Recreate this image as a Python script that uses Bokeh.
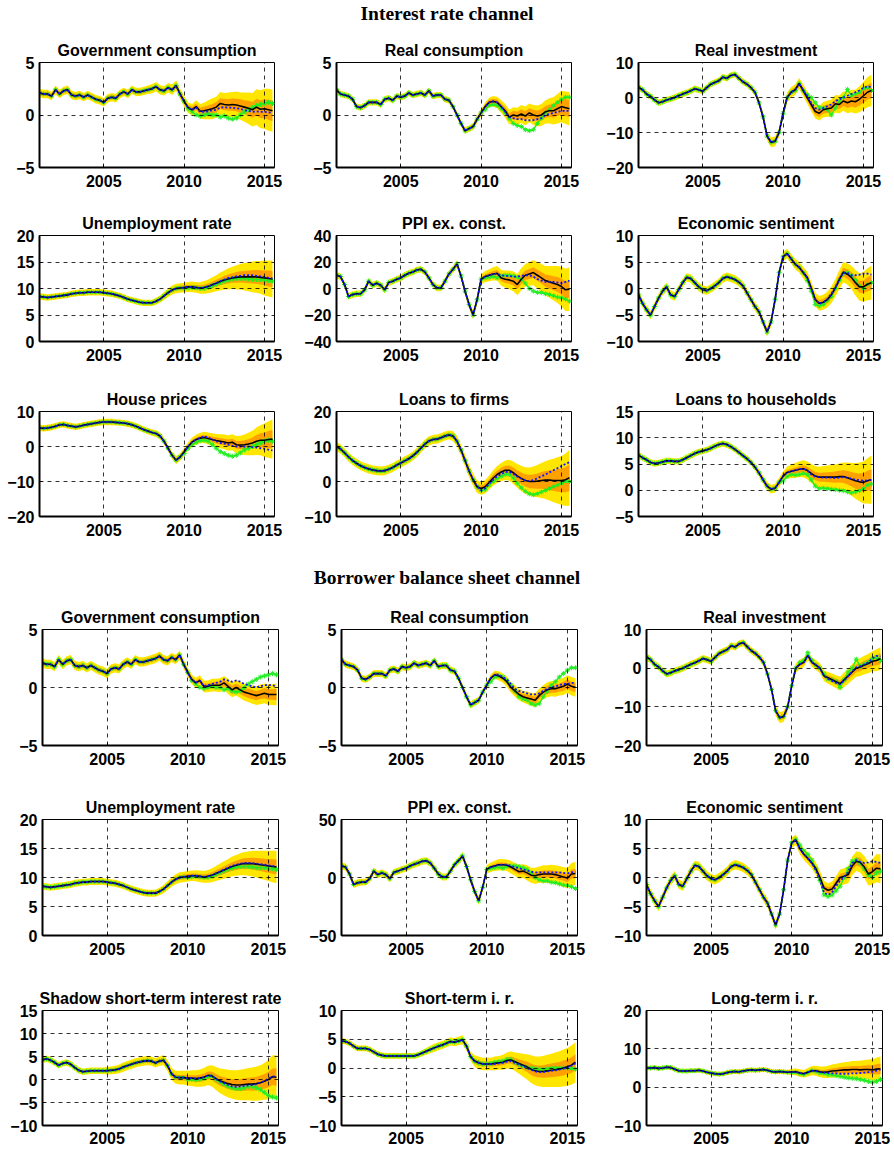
from bokeh.plotting import figure
from bokeh.models import Range1d, Div, FixedTicker
from bokeh.layouts import row, column
from bokeh.embed import file_html
from bokeh.resources import INLINE

N = 59   # quarterly, 2001Q1 .. 2015Q3
H = 36   # simulated paths (tails) start in 2010Q1
quarters = [2001 + i / 4 for i in range(N)]
x_ticks = [2005, 2010, 2015]

# ---------------- observed data (green) ----------------
act_gov = [2.1,2.0,2.0,1.8, 2.4,2.0,2.3,2.4, 1.9,1.8,1.9,1.7, 1.9,1.7,1.5,1.4, 1.2,1.6,1.7,1.6, 2.0,2.2,2.0,2.4,
           2.2,2.2,2.3,2.4, 2.5,2.7,2.4,2.3, 2.6,2.4,2.8,2.0, 1.3,0.6,0.3,0.0, -0.1,0.0,0.1,0.0, 0.0,-0.2,-0.1,-0.3,
           -0.4,-0.3,0.0,0.3, 0.5,0.7,0.9,1.0, 1.1,1.2,1.1]
act_rcons = [2.4,2.0,1.9,1.8, 1.5,0.8,0.7,0.9, 1.2,1.2,1.2,1.0, 1.5,1.6,1.4,1.8, 1.7,1.8,2.1,1.9, 2.0,2.1,1.9,2.3,
             1.8,1.9,1.9,1.5, 1.4,0.8,0.0,-0.8, -1.5,-1.3,-1.1,-0.4, 0.2,0.5,0.9,1.0, 0.9,0.6,0.2,-0.3, -0.8,-1.0,-1.1,-1.4,
             -1.5,-1.4,-0.8,-0.3, 0.2,0.5,0.9,1.2, 1.5,1.7,1.7]
act_rinv = [2.9,2.2,1.0,0.3, -0.7,-1.5,-1.2,-0.7, -0.4,0.0,0.5,1.0, 1.4,1.9,2.5,2.2, 1.8,2.8,3.8,4.3, 4.8,5.8,5.5,6.3,
            6.6,5.5,4.5,3.8, 2.8,1.5,-1.5,-5.5, -11.0,-12.8,-12.5,-10.0, -4.5,0.0,1.5,2.0, 4.0,2.0,0.8,0.0, -1.5,-2.8,-3.0,-3.5,
            -5.0,-3.0,-1.0,0.0, 2.3,0.5,1.0,1.5, 2.5,2.8,2.0]
act_unemp = [8.5,8.4,8.3,8.4, 8.5,8.6,8.7,8.8, 9.0,9.1,9.2,9.2, 9.3,9.3,9.3,9.3, 9.2,9.1,9.0,8.8, 8.6,8.3,8.0,7.8,
             7.6,7.4,7.3,7.3, 7.3,7.6,8.0,8.6, 9.2,9.7,10.0,10.1, 10.0,10.1,10.2,10.1, 10.0,10.0,10.2,10.5, 10.8,11.1,11.4,11.6,
             11.8,11.9,11.9,11.9, 11.8,11.7,11.7,11.7, 11.6,11.5,11.4]
act_ppi = [10,9,3,-6, -4.6,-4,-4,-1, 5.5,2.5,4,2.5, -1,4.5,5.5,7, 8,10,11.5,12.5, 14,14.5,12.5,8,
           3,0.5,0.5,5.5, 11,14.5,18.5,9.5, -2,-12,-20,-8.5, 7,8,8.5,9, 8,9.5,10,10, 9.5,8.5,7,4,
           0,-2,-3,-3, -4,-4.5,-5.5,-6.5, -7,-8,-9.5]
act_esent = [-1.2,-2.8,-4.0,-5.0, -3.4,-1.8,-0.5,0.3, -1.2,-1.5,-0.2,1.1, 2.1,1.9,1.1,0.3, -0.2,-0.4,0.0,0.5, 1.1,1.9,2.2,2.0,
             1.7,1.2,0.5,-0.8, -2.1,-3.4,-4.4,-6.3, -8.2,-6.3,-2.1,3.0, 6.0,6.6,5.6,4.6, 4.0,3.0,1.5,-0.5, -3.0,-3.3,-3.0,-2.3,
             -1.5,0.0,1.5,2.8, 3.0,2.5,1.5,0.5, 0.0,0.8,1.1]
act_house = [5.3,5.2,5.3,5.5, 5.8,6.2,6.3,6.0, 5.8,5.6,5.8,6.1, 6.3,6.5,6.7,6.9, 7.0,7.0,7.0,6.9, 6.8,6.7,6.5,6.2,
             5.8,5.3,4.8,4.4, 4.0,3.7,3.0,1.5, -0.5,-2.5,-3.9,-3.0, -2.0,-0.5,0.5,1.2, 1.7,1.8,1.5,0.5, -0.5,-1.5,-2.0,-2.5,
             -2.8,-2.5,-1.8,-1.0, -0.5,0.0,0.5,1.0, 1.5,1.8,1.5]
act_lfirm = [10.0,9.3,8.2,7.0, 6.0,5.2,4.5,4.0, 3.6,3.3,3.1,3.0, 3.1,3.5,4.0,4.7, 5.3,5.9,6.5,7.3, 8.3,9.5,10.7,11.6,
             12.0,12.1,12.5,13.0, 13.3,13.0,11.5,9.0, 6.0,3.0,0.5,-1.5, -2.5,-2.3,-1.0,0.0, 0.8,1.5,2.0,2.0, 1.0,-0.5,-1.8,-2.8,
             -3.5,-3.8,-3.5,-3.0, -2.5,-2.0,-1.5,-1.0, -0.5,0.0,0.0]
act_lhh = [6.7,6.2,5.8,5.3, 5.1,5.2,5.4,5.6, 5.6,5.5,5.5,5.8, 6.2,6.6,7.0,7.3, 7.5,7.7,8.0,8.4, 8.7,8.9,8.7,8.3,
           7.8,7.2,6.6,6.0, 5.3,4.4,3.3,2.0, 0.8,0.2,0.4,1.5, 1.8,2.6,3.0,2.9, 3.0,3.2,3.0,2.0, 0.8,0.3,0.4,0.3,
           0.2,0.1,0.0,-0.1, -0.3,-0.5,-0.3,-0.1, 0.3,1.0,1.2]
act_shadow = [4.3,4.5,4.2,3.7, 3.1,3.5,3.7,3.3, 2.6,2.0,1.7,1.8, 1.9,1.9,1.9,1.9, 1.9,2.0,2.1,2.3, 2.7,3.0,3.3,3.6,
              3.8,4.0,4.1,4.0, 3.6,4.0,4.2,3.0, 1.2,0.5,0.4,0.4, 0.0,0.0,-0.1,0.0, 0.2,0.6,0.7,0.0, -0.5,-1.0,-1.5,-1.8,
              -2.0,-2.0,-1.8,-1.5, -1.5,-1.8,-2.2,-2.8, -3.5,-3.8,-4.0]
act_short = [4.7,4.6,4.3,3.8, 3.4,3.4,3.4,3.2, 2.8,2.4,2.2,2.1, 2.1,2.1,2.1,2.1, 2.1,2.1,2.1,2.3, 2.6,2.9,3.2,3.5,
             3.8,4.0,4.3,4.6, 4.5,4.7,4.9,3.8, 2.0,1.2,0.9,0.7, 0.7,0.8,1.0,1.1, 1.2,1.5,1.5,1.0, 0.6,0.3,0.1,0.0,
             -0.1,-0.2,-0.2,-0.1, 0.0,0.0,0.0,0.0, 0.0,-0.1,-0.2]
act_long = [5.0,5.0,5.1,4.9, 5.0,5.2,5.1,4.7, 4.3,4.2,4.2,4.3, 4.3,4.4,4.2,3.9, 3.7,3.5,3.4,3.5, 3.8,4.0,4.1,4.0,
            4.2,4.4,4.5,4.4, 4.5,4.6,4.4,4.1, 4.0,4.1,4.0,3.9, 3.8,3.9,3.5,3.3, 3.8,4.3,4.1,3.7, 3.6,3.3,3.2,3.0,
            2.8,2.6,2.4,2.3, 2.2,2.0,1.8,1.5, 1.3,1.5,2.0]

# ---------------- simulated median (black) and alternative path (blue), 2010Q1 .. 2015Q3 ----------------
# Interest rate channel
med_gov1 = [1.3,0.7,0.5,0.8, 0.35,0.4,0.5,0.6, 0.75,1.1,1.0,0.95, 1.0,0.95,0.85,0.75, 0.65,0.5,0.75,0.55, 0.6,0.5,0.4]
blu_gov1 = [1.3,0.7,0.5,0.7, 0.3,0.3,0.35,0.45, 0.5,0.7,0.75,0.7, 0.7,0.65,0.6,0.45, 0.4,0.3,0.35,0.3, 0.3,0.25,0.2]
med_rcons1 = [0.2,0.8,1.2,1.3, 1.2,0.8,0.4,-0.2, 0.0,-0.1,0.1,-0.1, 0.2,0.0,-0.1,0.0, 0.3,0.4,0.4,0.6, 0.8,0.7,0.6]
blu_rcons1 = [0.2,0.8,1.2,1.3, 1.2,0.8,0.3,-0.2, -0.3,-0.4,-0.4,-0.5, -0.5,-0.5,-0.4,-0.3, 0.0,0.1,0.2,0.3, 0.4,0.4,0.4]
med_rinv1 = [-4.5,0.0,1.5,2.2, 4.0,2.0,0.0,-2.0, -4.0,-4.5,-3.5,-3.2, -3.0,-1.8,-2.0,-1.0, -1.5,-1.0,-1.2,-0.5, 0.5,1.5,2.0]
blu_rinv1 = [-4.5,0.0,1.5,2.2, 4.0,2.2,0.5,-1.5, -3.0,-3.5,-3.0,-2.5, -2.0,-1.0,-0.5,0.0, 0.5,1.0,1.5,2.0, 2.8,3.2,3.0]
med_unemp1 = [10.2,10.3,10.3,10.2, 10.1,10.2,10.4,10.7, 11.0,11.3,11.6,11.8, 12.0,12.1,12.2,12.2, 12.2,12.2,12.2,12.1, 12.0,11.9,11.8]
blu_unemp1 = [10.2,10.3,10.3,10.2, 10.1,10.2,10.4,10.7, 11.0,11.4,11.7,12.0, 12.1,12.3,12.4,12.5, 12.5,12.5,12.4,12.3, 12.2,12.0,11.9]
med_ppi1 = [7,9,10,11, 11.5,8,7,6.5, 5.5,3,7,10, 11,12,10,8, 6,5,4,3, 1.5,-1,-0.5]
blu_ppi1 = [7,9,10,11, 11,10,9.5,9.5, 9,9,9.5,10, 10,9,7,6, 5,5,5,4.5, 4,5,6]
med_esent1 = [6.0,6.6,5.6,4.6, 4.0,3.0,2.1,0.1, -2.1,-2.8,-2.6,-2.1, -1.2,0.1,1.7,3.1, 2.7,2.1,1.1,0.3, 0.3,0.8,1.1]
blu_esent1 = [6.0,6.6,5.6,4.6, 4.0,3.0,2.0,0.1, -2.0,-2.9,-2.6,-2.0, -1.0,0.2,1.8,3.0, 3.0,2.5,2.5,2.6, 2.8,2.8,2.6]
med_house1 = [-1.5,0.0,1.3,2.0, 2.4,2.6,2.3,2.0, 1.7,1.5,1.3,1.0, 1.2,0.5,0.4,0.5, 0.7,1.0,1.5,1.8, 1.8,2.0,2.1]
blu_house1 = [-1.5,0.0,1.3,2.0, 2.5,2.9,2.6,2.0, 1.5,1.0,0.8,0.5, 0.2,0.0,0.0,0.0, 0.0,-0.2,-0.3,-0.5, -0.7,-0.9,-1.1]
med_lfirm1 = [-2.0,-1.5,-0.3,1.0, 2.0,2.7,3.2,3.2, 2.5,1.6,0.9,0.3, 0.0,0.0,0.1,0.3, 0.4,0.4,0.3,0.3, 0.3,0.5,1.1]
blu_lfirm1 = [-2.5,-2.0,-0.6,0.5, 1.5,2.2,2.7,2.8, 2.2,1.4,0.8,0.3, 0.1,0.4,0.9,1.5, 2.0,2.6,3.2,3.8, 4.4,5.0,5.5]
med_lhh1 = [2.7,3.4,3.6,3.8, 4.0,4.1,3.8,3.2, 2.7,2.5,2.5,2.5, 2.5,2.5,2.6,2.6, 2.4,2.1,1.8,1.6, 1.5,1.8,2.0]
blu_lhh1 = [2.7,3.4,3.6,3.8, 4.0,4.1,3.8,3.0, 2.6,2.5,2.4,2.4, 2.4,2.3,2.4,2.5, 2.4,2.2,2.0,1.9, 1.8,1.9,2.0]
# Borrower balance sheet channel
med_gov2 = [1.3,0.7,0.4,0.6, 0.1,0.1,0.2,0.2, 0.2,0.4,0.1,-0.2, 0.0,-0.2,-0.4,-0.5, -0.6,-0.7,-0.6,-0.5, -0.6,-0.6,-0.6]
blu_gov2 = [1.3,0.7,0.4,0.6, 0.1,0.2,0.3,0.4, 0.5,0.7,0.6,0.5, 0.6,0.5,0.3,0.2, 0.1,0.0,0.1,0.2, 0.2,0.2,0.1]
med_rcons2 = [0.2,0.8,1.1,1.0, 0.8,0.5,0.0,-0.3, -0.6,-0.8,-0.9,-1.0, -1.1,-0.7,-0.4,-0.2, -0.1,-0.1,0.0,0.1, 0.3,0.1,0.0]
blu_rcons2 = [0.2,0.8,1.1,1.1, 0.9,0.7,0.3,-0.1, -0.3,-0.4,-0.5,-0.6, -0.6,-0.5,-0.3,-0.1, 0.0,0.1,0.2,0.3, 0.3,0.4,0.4]
med_rinv2 = [-4.5,0.0,1.0,1.5, 3.3,1.5,0.8,0.0, -2.0,-2.5,-3.0,-3.5, -4.0,-3.0,-2.0,-1.0, 0.0,0.3,0.8,1.2, 1.8,2.0,2.5]
blu_rinv2 = [-4.5,0.0,1.0,1.5, 3.3,1.5,0.8,0.0, -2.0,-2.8,-3.3,-3.8, -4.2,-3.2,-2.0,-0.8, 0.2,0.5,1.0,1.5, 2.5,3.2,3.0]
med_unemp2 = [10.2,10.3,10.3,10.2, 10.1,10.2,10.4,10.7, 11.0,11.3,11.6,11.9, 12.1,12.3,12.4,12.4, 12.4,12.3,12.2,12.1, 12.0,11.9,11.8]
blu_unemp2 = [10.2,10.3,10.3,10.2, 10.1,10.2,10.4,10.7, 11.0,11.4,11.7,12.0, 12.2,12.4,12.5,12.5, 12.5,12.4,12.3,12.2, 12.1,12.0,11.9]
med_ppi2 = [7,9,10,11, 11,10.5,9,7, 5,5.5,4,2, 1.5,2.5,3,3, 3,2.5,1.5,0.5, -0.5,3,3.5]
blu_ppi2 = [7,9,10,11, 11,11,10,9, 8,7,6,5, 4.5,4.5,4.5,4.5, 4.5,4.5,4.5,4, 3.5,4.5,5]
med_esent2 = [6.0,6.5,5.0,4.0, 3.3,2.5,1.5,0.0, -1.8,-2.2,-2.0,-1.0, 0.0,0.2,0.5,2.0, 2.8,2.6,1.8,0.6, 1.0,1.6,1.5]
blu_esent2 = [6.0,6.5,5.0,4.0, 3.3,2.5,1.2,-0.5, -2.6,-3.0,-2.6,-1.5, -0.5,0.0,1.0,2.5, 3.0,2.7,2.5,2.6, 2.8,2.7,2.5]
med_shadow2 = [0.3,0.3,0.2,0.3, 0.5,0.9,0.8,0.2, -0.3,-0.6,-0.9,-1.1, -1.2,-1.2,-1.1,-1.0, -1.0,-0.9,-0.7,-0.4, 0.0,0.6,0.5]
blu_shadow2 = [0.3,0.3,0.2,0.3, 0.5,0.9,0.8,0.1, -0.4,-0.8,-1.2,-1.5, -1.6,-1.5,-1.4,-1.3, -1.2,-1.0,-0.7,-0.3, 0.2,0.7,0.6]
med_short2 = [0.7,0.7,0.8,0.9, 1.0,1.3,1.4,1.1, 0.8,0.5,0.2,-0.2, -0.5,-0.6,-0.6,-0.5, -0.4,-0.3,-0.2,0.0, 0.2,0.5,1.0]
blu_short2 = [0.7,0.7,0.7,0.8, 0.9,1.1,1.2,0.9, 0.6,0.3,0.0,-0.3, -0.6,-0.7,-0.7,-0.6, -0.5,-0.4,-0.3,-0.1, 0.1,0.4,0.8]
med_long2 = [4.0,4.0,3.7,3.5, 3.9,4.3,4.3,4.0, 3.9,4.0,4.2,4.3, 4.4,4.5,4.5,4.6, 4.6,4.5,4.6,4.6, 4.5,4.7,4.8]
blu_long2 = [4.0,4.0,3.7,3.5, 3.9,4.3,4.2,3.9, 3.8,3.7,3.6,3.6, 3.5,3.5,3.5,3.6, 3.6,3.7,3.8,3.9, 4.0,4.3,4.6]

# ---------------- fan half-widths: outer (yellow) and inner (orange), 2001Q1 .. 2015Q3 ----------------
yw_gov1 = [.4,.4,.4,.4, .4,.4,.4,.4, .4,.4,.4,.4, .4,.4,.4,.4, .4,.4,.4,.4, .4,.4,.4,.4, .4,.4,.4,.4, .45,.45,.45,.45, .45,.5,.5,.5,
           .5,.5,.55,.6, .7,.8,.9,1.0, 1.0,1.1,1.1,1.2, 1.2,1.3,1.3,1.4, 1.5,1.6,1.7,1.8, 1.9,2.0,2.0]
ow_gov1 = [.2,.2,.2,.2, .2,.2,.2,.2, .2,.2,.2,.2, .2,.2,.2,.2, .2,.2,.2,.2, .2,.2,.2,.2, .2,.2,.2,.2, .2,.2,.2,.2, .2,.2,.25,.25,
           .25,.25,.3,.3, .35,.4,.4,.45, .5,.5,.55,.55, .6,.6,.65,.65, .7,.75,.8,.85, .9,.95,1.0]
yw_rcons1 = [.3,.3,.3,.3, .3,.3,.3,.3, .3,.3,.3,.3, .3,.3,.3,.3, .3,.3,.3,.3, .3,.3,.3,.3, .3,.3,.3,.3, .3,.3,.3,.3, .3,.3,.35,.35,
             .35,.4,.45,.5, .55,.6,.65,.7, .75,.8,.85,.9, .9,.95,1.0,1.05, 1.1,1.2,1.3,1.4, 1.5,1.55,1.6]
ow_rcons1 = [.15,.15,.15,.15, .15,.15,.15,.15, .15,.15,.15,.15, .15,.15,.15,.15, .15,.15,.15,.15, .15,.15,.15,.15, .15,.15,.15,.15,
             .15,.15,.15,.15, .15,.15,.18,.18, .2,.2,.25,.25, .3,.3,.35,.35, .4,.4,.45,.45, .45,.5,.5,.55, .55,.6,.65,.7, .75,.8,.8]
yw_rinv1 = [.9,.9,.9,.9, .9,.9,.9,.9, .9,.9,.9,.9, .9,.9,.9,.9, .9,.9,.9,.9, .9,.9,.9,.9, .9,.9,.9,.9, .9,1.0,1.1,1.2, 1.3,1.4,1.4,1.3,
            1.3,1.4,1.5,1.5, 1.6,1.7,1.8,1.9, 2.0,2.1,2.2,2.3, 2.4,2.5,2.6,2.8, 3.0,3.2,3.4,3.7, 4.0,4.3,4.5]
ow_rinv1 = [.4,.4,.4,.4, .4,.4,.4,.4, .4,.4,.4,.4, .4,.4,.4,.4, .4,.4,.4,.4, .4,.4,.4,.4, .4,.4,.4,.4, .4,.45,.5,.5, .55,.6,.6,.55,
            .6,.65,.7,.7, .8,.9,.9,1.0, 1.0,1.1,1.1,1.2, 1.2,1.3,1.3,1.4, 1.5,1.6,1.7,1.8, 2.0,2.1,2.2]
yw_unemp1 = [.6,.6,.6,.6, .6,.6,.6,.6, .6,.6,.6,.6, .6,.6,.6,.6, .6,.6,.6,.6, .6,.6,.6,.6, .6,.6,.6,.6, .6,.65,.7,.75, .8,.85,.9,.9,
             .9,.95,1.0,1.0, 1.1,1.2,1.3,1.4, 1.5,1.7,1.8,2.0, 2.1,2.3,2.4,2.6, 2.7,2.9,3.0,3.1, 3.3,3.4,3.5]
ow_unemp1 = [.25,.25,.25,.25, .25,.25,.25,.25, .25,.25,.25,.25, .25,.25,.25,.25, .25,.25,.25,.25, .25,.25,.25,.25, .25,.25,.25,.25,
             .25,.28,.3,.32, .35,.35,.38,.4, .4,.4,.42,.45, .48,.5,.55,.6, .65,.7,.8,.85, .9,1.0,1.05,1.1, 1.2,1.25,1.3,1.35, 1.4,1.5,1.5]
yw_ppi1 = [2.5,2.5,2.5,2.5, 2.5,2.5,2.5,2.5, 2.5,2.5,2.5,2.5, 2.5,2.5,2.5,2.5, 2.5,2.5,2.5,2.5, 2.5,2.5,2.5,2.5, 2.5,2.5,2.5,2.5,
           2.5,2.6,2.8,3.0, 3.0,3.2,3.4,3.5, 3.8,4.2,4.6,5.0, 5.5,6.0,6.5,7.0, 7.5,8.0,8.5,8.5, 9.0,9.5,10,10.5, 11,12,13,14, 15,16,16.5]
ow_ppi1 = [1.0,1.0,1.0,1.0, 1.0,1.0,1.0,1.0, 1.0,1.0,1.0,1.0, 1.0,1.0,1.0,1.0, 1.0,1.0,1.0,1.0, 1.0,1.0,1.0,1.0, 1.0,1.0,1.0,1.0,
           1.0,1.1,1.2,1.3, 1.3,1.4,1.5,1.5, 1.6,1.8,2.0,2.2, 2.4,2.6,2.8,3.0, 3.2,3.4,3.6,3.6, 3.8,4.0,4.2,4.4, 4.6,5.0,5.3,5.6, 6.0,6.3,6.5]
yw_esent1 = [.8,.8,.8,.8, .8,.8,.8,.8, .8,.8,.8,.8, .8,.8,.8,.8, .8,.8,.8,.8, .8,.8,.8,.8, .8,.8,.8,.8, .8,.8,.8,.8, .9,.9,.9,.9,
             .9,.9,.9,1.0, 1.0,1.1,1.1,1.2, 1.3,1.4,1.4,1.5, 1.6,1.7,1.8,1.9, 2.0,2.2,2.4,2.6, 2.8,3.0,3.2]
ow_esent1 = [.35,.35,.35,.35, .35,.35,.35,.35, .35,.35,.35,.35, .35,.35,.35,.35, .35,.35,.35,.35, .35,.35,.35,.35, .35,.35,.35,.35,
             .35,.35,.35,.35, .35,.35,.35,.35, .4,.4,.4,.45, .45,.5,.5,.55, .6,.6,.65,.65, .7,.75,.8,.85, .9,1.0,1.05,1.1, 1.2,1.3,1.4]
yw_house1 = [.9,.9,.9,.9, .9,.9,.9,.9, .9,.9,.9,.9, .9,.9,.9,.9, .9,.9,.9,.9, .9,.9,.9,.9, .9,.9,.9,.9, .9,.95,1.0,1.0, 1.0,1.1,1.1,1.1,
             1.1,1.2,1.3,1.4, 1.5,1.6,1.7,1.8, 1.9,2.0,2.1,2.2, 2.3,2.5,2.7,2.9, 3.2,3.5,3.9,4.3, 4.8,5.2,5.6]
ow_house1 = [.4,.4,.4,.4, .4,.4,.4,.4, .4,.4,.4,.4, .4,.4,.4,.4, .4,.4,.4,.4, .4,.4,.4,.4, .4,.4,.4,.4, .4,.42,.45,.45, .45,.5,.5,.5,
             .5,.55,.6,.6, .65,.7,.75,.8, .85,.9,.95,1.0, 1.0,1.1,1.2,1.3, 1.4,1.6,1.8,2.0, 2.2,2.4,2.6]
yw_lfirm1 = [1.3,1.3,1.3,1.3, 1.3,1.3,1.3,1.3, 1.3,1.3,1.3,1.3, 1.3,1.3,1.3,1.3, 1.3,1.3,1.3,1.3, 1.3,1.3,1.3,1.3, 1.3,1.3,1.3,1.3,
             1.3,1.4,1.5,1.6, 1.7,1.8,1.8,1.8, 1.8,1.9,2.0,2.2, 2.4,2.6,2.8,3.0, 3.2,3.4,3.6,3.8, 4.0,4.3,4.6,5.0, 5.4,5.8,6.2,6.6, 7.0,7.5,8.0]
ow_lfirm1 = [.6,.6,.6,.6, .6,.6,.6,.6, .6,.6,.6,.6, .6,.6,.6,.6, .6,.6,.6,.6, .6,.6,.6,.6, .6,.6,.6,.6, .6,.65,.7,.75, .8,.85,.85,.85,
             .85,.9,.95,1.0, 1.1,1.2,1.3,1.4, 1.5,1.6,1.7,1.8, 1.9,2.0,2.2,2.4, 2.6,2.8,3.0,3.2, 3.4,3.6,3.8]
yw_lhh1 = [.6,.6,.6,.6, .6,.6,.6,.6, .6,.6,.6,.6, .6,.6,.6,.6, .6,.6,.6,.6, .6,.6,.6,.6, .6,.6,.6,.6, .6,.65,.7,.75, .8,.8,.85,.9,
           .9,1.1,1.3,1.4, 1.5,1.6,1.7,1.8, 1.9,2.0,2.1,2.2, 2.3,2.4,2.5,2.7, 2.9,3.1,3.4,3.7, 4.0,4.3,4.6]
ow_lhh1 = [.25,.25,.25,.25, .25,.25,.25,.25, .25,.25,.25,.25, .25,.25,.25,.25, .25,.25,.25,.25, .25,.25,.25,.25, .25,.25,.25,.25,
           .25,.28,.3,.32, .35,.35,.38,.4, .4,.45,.5,.55, .6,.65,.7,.75, .8,.85,.9,.95, 1.0,1.05,1.1,1.2, 1.3,1.4,1.5,1.6, 1.8,1.9,2.0]
yw_gov2 = [.4,.4,.4,.4, .4,.4,.4,.4, .4,.4,.4,.4, .4,.4,.4,.4, .4,.4,.4,.4, .4,.4,.4,.4, .4,.4,.4,.4, .4,.4,.4,.4, .4,.4,.4,.4,
           .4,.4,.45,.45, .5,.5,.55,.55, .6,.6,.65,.65, .7,.7,.75,.75, .8,.8,.85,.85, .9,.9,.95]
ow_gov2 = [.2,.2,.2,.2, .2,.2,.2,.2, .2,.2,.2,.2, .2,.2,.2,.2, .2,.2,.2,.2, .2,.2,.2,.2, .2,.2,.2,.2, .2,.2,.2,.2, .2,.2,.2,.2,
           .2,.2,.2,.2, .25,.25,.25,.3, .3,.3,.3,.35, .35,.35,.35,.4, .4,.4,.4,.45, .45,.45,.5]
yw_rcons2 = [.3,.3,.3,.3, .3,.3,.3,.3, .3,.3,.3,.3, .3,.3,.3,.3, .3,.3,.3,.3, .3,.3,.3,.3, .3,.3,.3,.3, .3,.3,.3,.3, .3,.3,.3,.3,
             .3,.35,.35,.4, .4,.45,.45,.5, .5,.5,.55,.55, .6,.6,.6,.65, .65,.7,.7,.75, .75,.8,.8]
ow_rcons2 = [.15,.15,.15,.15, .15,.15,.15,.15, .15,.15,.15,.15, .15,.15,.15,.15, .15,.15,.15,.15, .15,.15,.15,.15, .15,.15,.15,.15,
             .15,.15,.15,.15, .15,.15,.15,.15, .15,.15,.2,.2, .2,.2,.25,.25, .25,.25,.3,.3, .3,.3,.3,.35, .35,.35,.35,.4, .4,.4,.4]
yw_rinv2 = [.9,.9,.9,.9, .9,.9,.9,.9, .9,.9,.9,.9, .9,.9,.9,.9, .9,.9,.9,.9, .9,.9,.9,.9, .9,.9,.9,.9, .9,1.0,1.1,1.2, 1.3,1.4,1.4,1.3,
            1.2,1.2,1.2,1.2, 1.2,1.2,1.3,1.3, 1.4,1.5,1.6,1.7, 1.8,1.9,2.0,2.1, 2.2,2.3,2.4,2.5, 2.6,2.8,3.0]
ow_rinv2 = [.4,.4,.4,.4, .4,.4,.4,.4, .4,.4,.4,.4, .4,.4,.4,.4, .4,.4,.4,.4, .4,.4,.4,.4, .4,.4,.4,.4, .4,.45,.5,.5, .55,.6,.6,.55,
            .5,.5,.5,.5, .5,.5,.55,.55, .6,.65,.7,.75, .8,.85,.9,.95, 1.0,1.05,1.1,1.15, 1.2,1.3,1.4]
yw_unemp2 = [.6,.6,.6,.6, .6,.6,.6,.6, .6,.6,.6,.6, .6,.6,.6,.6, .6,.6,.6,.6, .6,.6,.6,.6, .6,.6,.6,.6, .6,.65,.7,.75, .8,.85,.9,.9,
             .9,.9,.95,1.0, 1.0,1.1,1.2,1.3, 1.4,1.5,1.6,1.7, 1.8,1.9,2.0,2.1, 2.2,2.3,2.4,2.5, 2.6,2.7,2.8]
ow_unemp2 = [.25,.25,.25,.25, .25,.25,.25,.25, .25,.25,.25,.25, .25,.25,.25,.25, .25,.25,.25,.25, .25,.25,.25,.25, .25,.25,.25,.25,
             .25,.28,.3,.32, .35,.35,.38,.4, .4,.4,.4,.4, .4,.45,.5,.55, .6,.65,.7,.75, .8,.85,.9,.95, 1.0,1.05,1.1,1.15, 1.2,1.25,1.3]
yw_ppi2 = [3.0,3.0,3.0,3.0, 3.0,3.0,3.0,3.0, 3.0,3.0,3.0,3.0, 3.0,3.0,3.0,3.0, 3.0,3.0,3.0,3.0, 3.0,3.0,3.0,3.0, 3.0,3.0,3.0,3.0,
           3.0,3.2,3.4,3.5, 3.5,3.6,3.8,3.8, 3.8,4.0,4.5,5.0, 5.0,5.0,5.5,5.5, 6.0,6.0,6.5,6.5, 7.0,7.0,7.5,7.5, 8.0,8.0,8.5,8.5, 9.0,9.5,10]
ow_ppi2 = [1.2,1.2,1.2,1.2, 1.2,1.2,1.2,1.2, 1.2,1.2,1.2,1.2, 1.2,1.2,1.2,1.2, 1.2,1.2,1.2,1.2, 1.2,1.2,1.2,1.2, 1.2,1.2,1.2,1.2,
           1.2,1.3,1.4,1.4, 1.4,1.5,1.5,1.5, 1.5,1.6,1.8,2.0, 2.0,2.0,2.2,2.2, 2.4,2.4,2.6,2.6, 2.8,2.8,3.0,3.0, 3.2,3.2,3.4,3.4, 3.6,3.8,4.0]
yw_esent2 = [.8,.8,.8,.8, .8,.8,.8,.8, .8,.8,.8,.8, .8,.8,.8,.8, .8,.8,.8,.8, .8,.8,.8,.8, .8,.8,.8,.8, .8,.8,.8,.8, .8,.8,.8,.8,
             .9,.9,1.0,1.0, 1.0,1.0,1.1,1.1, 1.2,1.2,1.3,1.3, 1.4,1.4,1.5,1.6, 1.7,1.8,1.9,2.0, 2.2,2.4,2.5]
ow_esent2 = [.35,.35,.35,.35, .35,.35,.35,.35, .35,.35,.35,.35, .35,.35,.35,.35, .35,.35,.35,.35, .35,.35,.35,.35, .35,.35,.35,.35,
             .35,.35,.35,.35, .35,.35,.35,.35, .4,.4,.4,.4, .4,.4,.45,.45, .5,.5,.55,.55, .6,.6,.65,.7, .75,.8,.85,.9, .95,1.0,1.05]
yw_shadow2 = [.7,.7,.7,.7, .7,.7,.7,.7, .7,.7,.7,.7, .7,.7,.7,.7, .8,.85,.9,.95, 1.0,1.0,1.0,1.0, 1.0,1.0,1.0,1.0, 1.0,1.0,1.1,1.2,
              1.3,1.4,1.5,1.5, 1.6,1.7,1.8,1.9, 2.0,2.1,2.3,2.5, 2.7,2.9,3.0,3.1, 3.2,3.3,3.4,3.5, 3.6,3.7,3.8,4.0, 4.3,4.6,4.8]
ow_shadow2 = [.3,.3,.3,.3, .3,.3,.3,.3, .3,.3,.3,.3, .3,.3,.3,.3, .35,.35,.4,.4, .4,.4,.4,.4, .4,.4,.4,.4, .4,.4,.45,.5,
              .55,.6,.6,.6, .6,.65,.7,.75, .8,.85,.9,1.0, 1.05,1.1,1.15,1.2, 1.25,1.3,1.35,1.4, 1.45,1.5,1.55,1.6, 1.7,1.8,1.9]
yw_short2 = [.5,.5,.5,.5, .5,.5,.5,.5, .5,.5,.5,.5, .5,.5,.5,.5, .5,.5,.5,.5, .55,.6,.65,.7, .7,.7,.7,.7, .7,.75,.8,.8,
             .8,1.0,1.1,1.1, 1.1,1.1,1.2,1.2, 1.3,1.4,1.5,1.6, 1.8,2.0,2.2,2.4, 2.5,2.6,2.7,2.8, 2.9,3.0,3.1,3.2, 3.3,3.4,3.5]
ow_short2 = [.2,.2,.2,.2, .2,.2,.2,.2, .2,.2,.2,.2, .2,.2,.2,.2, .2,.2,.2,.2, .22,.25,.28,.3, .3,.3,.3,.3, .3,.32,.35,.35,
             .35,.4,.45,.45, .45,.45,.45,.45, .5,.55,.6,.65, .7,.8,.9,1.0, 1.0,1.05,1.1,1.15, 1.2,1.2,1.25,1.3, 1.3,1.35,1.4]
yw_long2 = [.6,.6,.6,.6, .6,.6,.6,.6, .6,.6,.6,.6, .6,.6,.6,.6, .6,.6,.6,.6, .6,.6,.6,.6, .6,.6,.6,.6, .6,.6,.6,.6, .6,.6,.6,.6,
            .8,.9,1.0,1.0, 1.1,1.2,1.3,1.4, 1.5,1.6,1.7,1.8, 1.9,2.0,2.1,2.2, 2.3,2.4,2.5,2.6, 2.8,3.0,3.2]
ow_long2 = [.25,.25,.25,.25, .25,.25,.25,.25, .25,.25,.25,.25, .25,.25,.25,.25, .25,.25,.25,.25, .25,.25,.25,.25, .25,.25,.25,.25,
            .25,.25,.25,.25, .25,.25,.25,.25, .3,.35,.4,.4, .45,.5,.5,.55, .6,.65,.7,.75, .8,.85,.9,.9, .95,1.0,1.05,1.1, 1.2,1.3,1.4]

# ---------------- panel definitions ----------------
section1 = [
    ("Government consumption", (-5, 5), [-5, 0, 5], act_gov, med_gov1, blu_gov1, yw_gov1, ow_gov1),
    ("Real consumption", (-5, 5), [-5, 0, 5], act_rcons, med_rcons1, blu_rcons1, yw_rcons1, ow_rcons1),
    ("Real investment", (-20, 10), [-20, -10, 0, 10], act_rinv, med_rinv1, blu_rinv1, yw_rinv1, ow_rinv1),
    ("Unemployment rate", (0, 20), [0, 5, 10, 15, 20], act_unemp, med_unemp1, blu_unemp1, yw_unemp1, ow_unemp1),
    ("PPI ex. const.", (-40, 40), [-40, -20, 0, 20, 40], act_ppi, med_ppi1, blu_ppi1, yw_ppi1, ow_ppi1),
    ("Economic sentiment", (-10, 10), [-10, -5, 0, 5, 10], act_esent, med_esent1, blu_esent1, yw_esent1, ow_esent1),
    ("House prices", (-20, 10), [-20, -10, 0, 10], act_house, med_house1, blu_house1, yw_house1, ow_house1),
    ("Loans to firms", (-10, 20), [-10, 0, 10, 20], act_lfirm, med_lfirm1, blu_lfirm1, yw_lfirm1, ow_lfirm1),
    ("Loans to households", (-5, 15), [-5, 0, 5, 10, 15], act_lhh, med_lhh1, blu_lhh1, yw_lhh1, ow_lhh1),
]
section2 = [
    ("Government consumption", (-5, 5), [-5, 0, 5], act_gov, med_gov2, blu_gov2, yw_gov2, ow_gov2),
    ("Real consumption", (-5, 5), [-5, 0, 5], act_rcons, med_rcons2, blu_rcons2, yw_rcons2, ow_rcons2),
    ("Real investment", (-20, 10), [-20, -10, 0, 10], act_rinv, med_rinv2, blu_rinv2, yw_rinv2, ow_rinv2),
    ("Unemployment rate", (0, 20), [0, 5, 10, 15, 20], act_unemp, med_unemp2, blu_unemp2, yw_unemp2, ow_unemp2),
    ("PPI ex. const.", (-50, 50), [-50, 0, 50], act_ppi, med_ppi2, blu_ppi2, yw_ppi2, ow_ppi2),
    ("Economic sentiment", (-10, 10), [-10, -5, 0, 5, 10], act_esent, med_esent2, blu_esent2, yw_esent2, ow_esent2),
    ("Shadow short-term interest rate", (-10, 15), [-10, -5, 0, 5, 10, 15], act_shadow, med_shadow2, blu_shadow2, yw_shadow2, ow_shadow2),
    ("Short-term i. r.", (-10, 10), [-10, -5, 0, 5, 10], act_short, med_short2, blu_short2, yw_short2, ow_short2),
    ("Long-term i. r.", (-10, 20), [-10, 0, 10, 20], act_long, med_long2, blu_long2, yw_long2, ow_long2),
]

YELLOW = "#FFE600"
ORANGE = "#FFA200"
GREEN = "#22EE22"
BLUE = "#1414FF"
FONT = "Liberation Sans"


def panel(spec, bl, br, bt, bb, fw, fh, xstand):
    title, ylim, yticks, act, med_t, blu_t, yw, ow = spec
    assert len(act) == N and len(med_t) == N - H and len(blu_t) == N - H, title
    assert len(yw) == N and len(ow) == N, title
    med = act[:H] + med_t
    blu = act[:H] + blu_t
    p = figure(title=title, frame_width=fw, frame_height=fh,
               x_range=Range1d(2001, 2015.625), y_range=Range1d(*ylim),
               output_backend="svg", toolbar_location=None,
               min_border_left=bl, min_border_right=br, min_border_top=bt, min_border_bottom=bb,
               background_fill_color="white", border_fill_color="white")
    p.title.align = "center"
    p.title.text_font = FONT
    p.title.text_font_size = "16px"
    p.title.text_font_style = "bold"
    p.title.text_color = "black"
    p.title.standoff = 7

    p.varea(x=quarters, y1=[m - w for m, w in zip(med, yw)], y2=[m + w for m, w in zip(med, yw)],
            fill_color=YELLOW)
    p.varea(x=quarters, y1=[m - w for m, w in zip(med, ow)], y2=[m + w for m, w in zip(med, ow)],
            fill_color=ORANGE)
    p.line(quarters, act, line_color=GREEN, line_width=1.4)
    p.scatter(quarters, act, marker="asterisk", size=5, line_color=GREEN, line_width=1)
    p.line(quarters, med, line_color="black", line_width=1.6)
    p.line(quarters, blu, line_color=BLUE, line_width=1.8, line_dash="2 2")

    p.xaxis.ticker = FixedTicker(ticks=x_ticks)
    p.yaxis.ticker = FixedTicker(ticks=yticks)
    p.xgrid.ticker = FixedTicker(ticks=x_ticks)
    p.ygrid.ticker = FixedTicker(ticks=yticks)
    p.grid.grid_line_color = "black"
    p.grid.grid_line_dash = "4 4"
    p.grid.grid_line_width = 1
    p.grid.grid_line_alpha = 0.8
    p.grid.level = "annotation"
    for ax in (p.xaxis, p.yaxis):
        ax.axis_line_width = 2
        ax.axis_line_color = "black"
        ax.major_tick_in = 3
        ax.major_tick_out = 0
        ax.major_tick_line_color = "black"
        ax.minor_tick_line_color = None
        ax.major_label_text_font = FONT
        ax.major_label_text_font_style = "bold"
        ax.major_label_text_font_size = "16px"
        ax.major_label_text_color = "black"
    p.xaxis.major_label_standoff = xstand
    p.yaxis.major_label_standoff = 5
    p.outline_line_color = "black"
    p.outline_line_width = 1
    p.outline_line_alpha = 1
    return p


def section_title(text, h, lh):
    return Div(text=text, width=894, height=h, margin=(0, 0, 0, 0),
               styles={"text-align": "center", "font-family": "Liberation Serif", "font-size": "19.5px",
                       "font-weight": "bold", "line-height": lh, "color": "black"})


# geometry: (left, right) borders per column, (top, bottom, frame height, label standoff) per row
cols1 = [(39, 26), (36, 31), (36, 10)]
rows1 = [(34, 34, 105, 7), (34, 35, 106, 7), (35, 35, 105, 7)]
cols2 = [(42, 27), (36, 33), (36, 12)]
rows2 = [(33, 41, 116, 7), (33, 42, 116, 7), (33, 24, 115, 6)]

items = [section_title("Interest rate channel", 28, "28px")]
for r, (bt, bb, fh, xs) in enumerate(rows1):
    items.append(row(*[panel(section1[3 * r + c], bl, br, bt, bb, 235, fh, xs)
                       for c, (bl, br) in enumerate(cols1)]))
items.append(section_title("Borrower balance sheet channel", 45, "54px"))
for r, (bt, bb, fh, xs) in enumerate(rows2):
    items.append(row(*[panel(section2[3 * r + c], bl, br, bt, bb, 236, fh, xs)
                       for c, (bl, br) in enumerate(cols2)]))

p = column(*items)

open("out.html", "w").write(file_html(p, INLINE))
